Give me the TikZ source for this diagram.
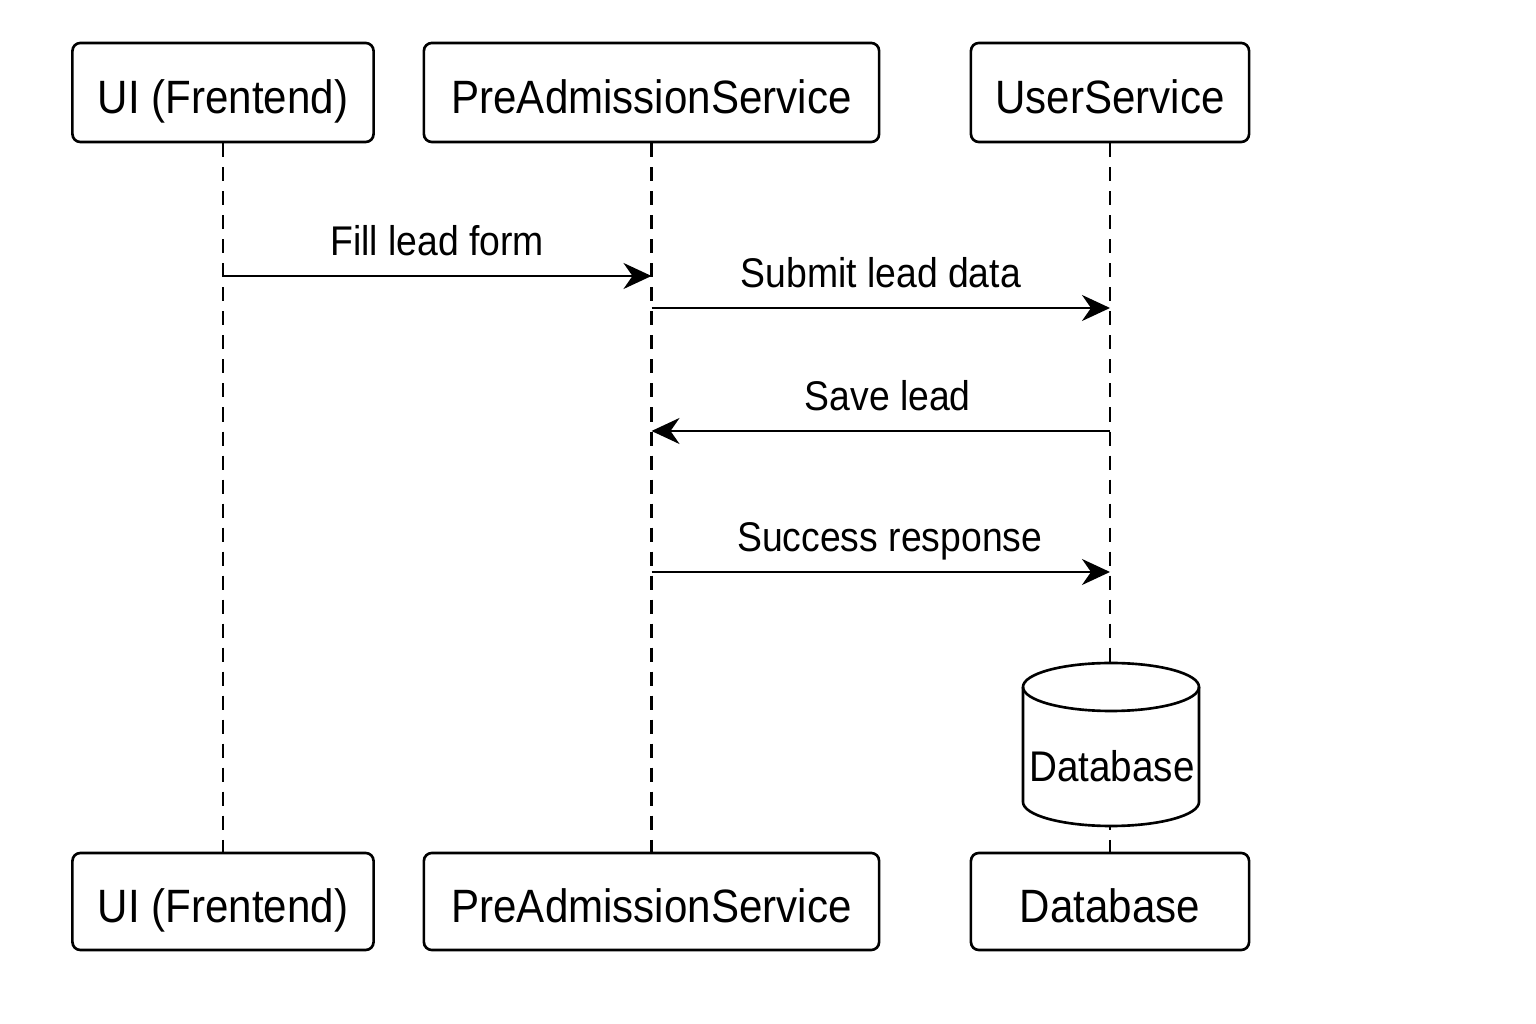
\documentclass[tikz,border=0pt]{standalone}
\usepackage{fontspec}
\setmainfont[FakeStretch=0.9]{Liberation Sans}
\usetikzlibrary{arrows.meta,positioning}
\tikzstyle{actor}=[rectangle,rounded corners=0.08cm,draw=black,line width=0.75pt,
minimum width=3.01cm,minimum height=0.99cm,text height=0.48cm,text depth=0.07cm,
font=\fontsize{13.3}{15}\selectfont]
\tikzstyle{life}=[line width=0.6pt,dash pattern=on 0.14cm off 0.1cm]
\tikzstyle{msg}=[line width=0.65pt,-{Stealth[length=0.28cm,width=0.26cm,inset=0.09cm]}]
\tikzstyle{lbl}=[anchor=base,yshift=0.20cm,inner sep=0pt,font=\fontsize{11.8}{13}\selectfont]

\begin{document}
\begin{tikzpicture}[x=0.01cm,y=0.01cm]
            \useasboundingbox (0,0) rectangle (1536,1024);

            % Participants PART

            \node[actor] (ui) at (223,931.5) {UI (Frentend)};
            \node[actor,minimum width=4.55cm] (pre) at (651.5,931.5) {PreAdmissionService};
            \node[actor,minimum width=2.78cm] (usr) at (1110,931.5) {UserService};

            \node[actor,minimum height=0.97cm] (ui2) at (223,122.5) {UI (Frentend)};
            \node[actor,minimum height=0.97cm,minimum width=4.55cm] (pre2) at (651.5,122.5) {PreAdmissionService};
            \node[actor,minimum height=0.97cm,minimum width=2.78cm] (db2) at (1110,122.5) {Database};

            % Lifelines

            \draw[life] (ui.south) -- (ui2.north);
            \draw[life] (pre.south) -- (pre2.north);
            \draw[life] (usr.south) -- (db2.north);

            % Messages

            \coordinate (m1a) at (ui.center |- 0,748);
            \coordinate (m1b) at (pre.center |- 0,748);
            \coordinate (m2a) at (pre.center |- 0,716);
            \coordinate (m2b) at (usr.center |- 0,716);
            \coordinate (m3a) at (usr.center |- 0,593);
            \coordinate (m3b) at (pre.center |- 0,593);
            \coordinate (m4a) at (pre.center |- 0,452);
            \coordinate (m4b) at (usr.center |- 0,452);

            \draw[msg] (m1a) -- node[lbl] {Fill lead form} (m1b);
            \draw[msg] (m2a) -- node[lbl] {Submit lead data} (m2b);
            \draw[msg] (m3a) -- node[lbl,xshift=0.07cm] {Save lead} (m3b);
            \draw[msg] (m4a) -- node[lbl,xshift=0.09cm] {Success response} (m4b);

            % Database cylinder

            \filldraw[fill=white,line width=0.75pt] (1023,337) -- (1023,222)
                arc[start angle=180,end angle=360,x radius=88,y radius=24]
                -- (1199,337) arc[start angle=0,end angle=180,x radius=88,y radius=24] -- cycle;
            \draw[line width=0.75pt] (1023,337) arc[start angle=180,end angle=360,x radius=88,y radius=24];
            \node[anchor=base,inner sep=0pt,font=\fontsize{12.2}{14}\selectfont] (db) at (1112,242) {Database};

\end{tikzpicture}
\end{document}
